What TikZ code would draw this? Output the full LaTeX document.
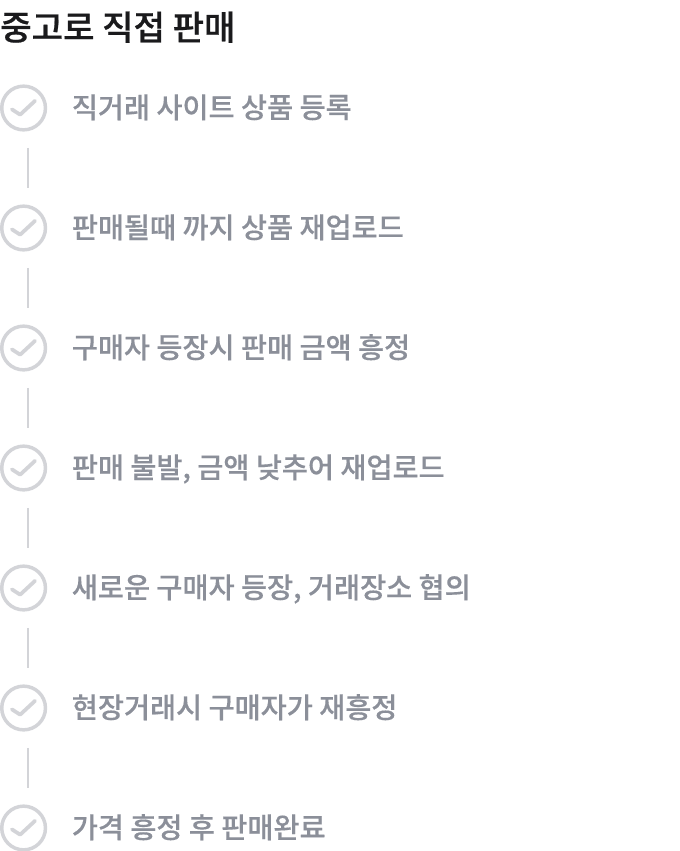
\documentclass[tikz,border=0pt]{standalone}
\usepackage{fontspec}
\setmainfont{Noto Sans CJK KR}
\newfontfamily\krm[FakeBold=0.35]{Noto Sans CJK KR Medium}
\newfontfamily\krb{Noto Sans CJK KR Medium}[FakeBold=0.6]
\definecolor{ring}{HTML}{D3D4D8}
\definecolor{txt}{HTML}{8B8F99}
\definecolor{ttl}{HTML}{1A1A1C}
\tikzset{
  ringc/.style={circle,draw=ring,line width=2.6pt,fill=white,minimum size=32.8pt,inner sep=0pt},
  lbl/.style={anchor=west,text=txt,font=\krm\fontsize{21.25pt}{21.25pt}\selectfont,inner sep=0pt,text height=18.7pt,text depth=2.6pt},
  conn/.style={draw=ring,line width=2pt},
  chk/.style={draw=ring,line width=2.8pt,line cap=round,line join=round}
}
\newcommand{\stepitem}[3]{%
  \node[ringc] (c#1) at (17.7pt,#2) {};
  \draw[chk] ([shift={(-8.8pt,-1pt)}]c#1.center) -- ([shift={(-2.6pt,-5pt)}]c#1.center) -- ([shift={(8.6pt,5.4pt)}]c#1.center);
  \node[lbl] (t#1) at (53.7pt,#2-0.6) {#3};
}
\begin{document}
\begin{tikzpicture}[x=1pt,y=-1pt]
\useasboundingbox (0,0) rectangle (510,638.25);
\node[anchor=west,inner sep=0pt,text=ttl,font=\krb\fontsize{25.6pt}{25.6pt}\selectfont] (title) at (0,20.4) {중고로 직접 판매};
\stepitem{1}{81}{직거래 사이트 상품 등록}
\stepitem{2}{171}{판매될때 까지 상품 재업로드}
\stepitem{3}{261}{구매자 등장시 판매 금액 흥정}
\stepitem{4}{351}{판매 불발, 금액 낮추어 재업로드}
\stepitem{5}{441}{새로운 구매자 등장, 거래장소 협의}
\stepitem{6}{531}{현장거래시 구매자가 재흥정}
\stepitem{7}{621}{가격 흥정 후 판매완료}
\foreach \a/\b in {1/2,2/3,3/4,4/5,5/6,6/7}{
  \draw[conn] ([xshift=3.2pt,yshift=-12.2pt]c\a.south) -- ([xshift=3.2pt,yshift=12.2pt]c\b.north);
}
\end{tikzpicture}
\end{document}
